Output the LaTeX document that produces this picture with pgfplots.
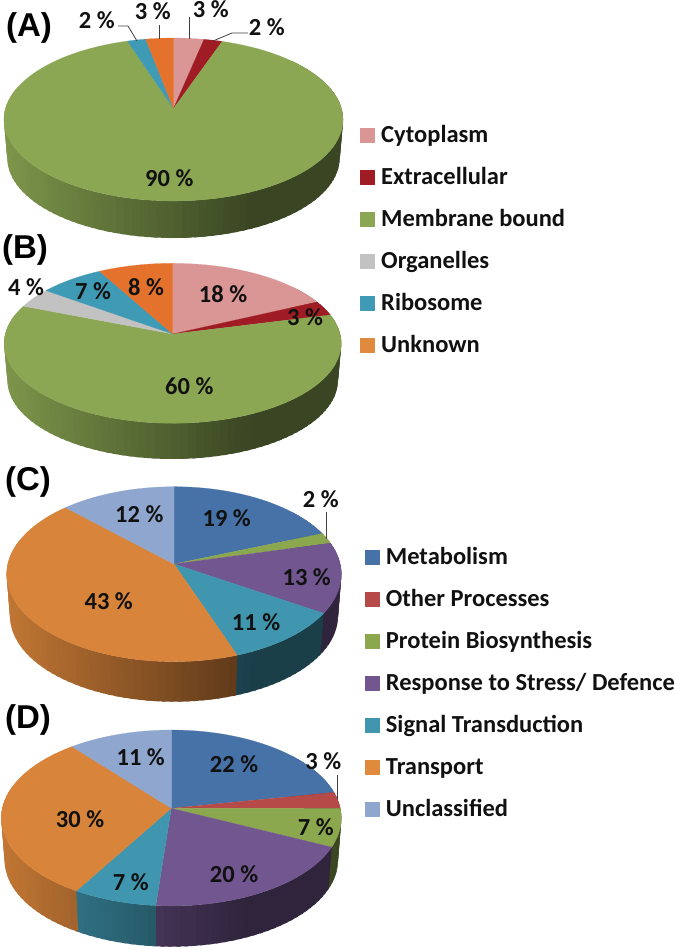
\documentclass[border=0pt]{standalone}
\usepackage{pgfplots}
\pgfplotsset{compat=1.18}
\usepackage{fontspec}
\setmainfont{Carlito}
\newfontfamily\arialf{Liberation Sans}
% chart colours
\definecolor{cyto}{HTML}{D99694}
\definecolor{extra}{HTML}{A01C24}
\definecolor{memb}{HTML}{8BA753}
\definecolor{orga}{HTML}{C2C2C2}
\definecolor{ribo}{HTML}{3F9AB5}
\definecolor{unkn}{HTML}{E5722C}
\definecolor{unknleg}{HTML}{E08A3E}
\definecolor{meta}{HTML}{4672A8}
\definecolor{other}{HTML}{B54A48}
\definecolor{prot}{HTML}{8CA84E}
\definecolor{resp}{HTML}{71568F}
\definecolor{sign}{HTML}{3F96AE}
\definecolor{tran}{HTML}{D8843A}
\definecolor{uncl}{HTML}{8FA6CF}
\definecolor{txt}{HTML}{111111}
% point on a disk rim: #1 angle, #2 scale, #3 y of disk centre
\newcommand\getpt[3]{%
  \pgfmathsetmacro\pu{sin(#1)}%
  \pgfmathsetmacro\pv{cos(#1)}%
  \pgfmathsetmacro\pden{1+\pk*\pv}%
  \pgfmathsetmacro\px{\pcx+\pR*#2*\pu/\pden}%
  \pgfmathsetmacro\py{#3-\pQ*#2*\pv/\pden}%
}
% #1 cx, #2 y apex, #3 y centre of the lower disk, #4 R, #5 Q, #6 k, #7 list value/colour
\newcommand\pie[7]{%
  \def\pcx{#1}\def\pcy{#2}\def\pyb{#3}\def\pR{#4}\def\pQ{#5}\def\pk{#6}%
  % side walls: each strip runs a little under the next one
  \xdef\cum{0}%
  \foreach \val/\col in {#7}{%
    \pgfmathsetmacro\ts{max(3.6*\cum,50)}%
    \pgfmathsetmacro\te{min(3.6*(\cum+\val),285)}%
    \pgfmathparse{\te>\ts+0.01?1:0}%
    \ifnum\pgfmathresult=1
      \pgfmathtruncatemacro\nn{ceil((\te-\ts)/2.5)}%
      \pgfmathsetmacro\dstep{(\te-\ts)/\nn}%
      \foreach \i in {1,...,\nn}{%
        \pgfmathsetmacro\tA{\ts+\dstep*(\i-1)}%
        \pgfmathsetmacro\tC{\ts+\dstep*\i+1.2}%
        \getpt{\tA}{1}{\pcy}\let\xa\px\let\ya\py
        \getpt{\tC}{1}{\pcy}\let\xb\px\let\yb\py
        \getpt{\tC}{0.98}{\pyb}\let\xc\px\let\yc\py
        \getpt{\tA}{0.98}{\pyb}\let\xd\px\let\yd\py
        \pgfmathsetmacro\tfrac{(\xa-\pcx+\pR)/(2*\pR)}%
        \pgfmathtruncatemacro\shd{max(42,90-64*\tfrac)}%
        \edef\doit{\noexpand\addplot[fill=\col!\shd!black,draw=none] coordinates {(\xa,\ya) (\xb,\yb) (\xc,\yc) (\xd,\yd)} --cycle;}%
        \doit
      }%
    \fi
    \pgfmathsetmacro\newcum{\cum+\val}%
    \xdef\cum{\newcum}%
  }%
  % top face
  \xdef\cum{0}%
  \foreach \val/\col in {#7}{%
    \pgfmathsetmacro\ts{3.6*\cum}%
    \pgfmathsetmacro\te{3.6*(\cum+\val)}%
    \pgfmathtruncatemacro\nn{ceil((\te-\ts)/3)}%
    \pgfmathsetmacro\dstep{(\te-\ts)/\nn}%
    \xdef\coords{(\pcx,\pcy)}%
    \foreach \i in {0,...,\nn}{%
      \pgfmathsetmacro\tA{\ts+\dstep*\i}%
      \getpt{\tA}{1}{\pcy}%
      \xdef\coords{\coords (\px,\py)}%
    }%
    \edef\doit{\noexpand\addplot[fill=\col,draw=\col,line width=0.2pt] coordinates {\coords} --cycle;}%
    \doit
    \pgfmathsetmacro\newcum{\cum+\val}%
    \xdef\cum{\newcum}%
  }%
}
\newcommand\lab[3]{\node[font=\fontsize{24.5}{24.5}\selectfont\bfseries,text=txt,inner sep=0pt,anchor=center] at (axis cs:#1,#2) {#3};}
\newcommand\ttl[3]{\node[font=\fontsize{33}{33}\selectfont\arialf\bfseries,text=black,inner sep=0pt,anchor=center] at (axis cs:#1,#2) {#3};}
\newcommand\leg[5]{%
  \addplot[only marks,mark=square*,mark size=7pt,mark options={fill=#4,draw=#4}] coordinates {(#1,#2)};
  \node[font=\fontsize{24.5}{24.5}\selectfont\bfseries,text=txt,inner sep=0pt,anchor=base west] at (axis cs:#3,#2+7.5) {#5};
}
\begin{document}
\begin{tikzpicture}
\useasboundingbox (0,0) rectangle (676pt,949pt);
\begin{axis}[
  at={(0,0)},anchor=south west,
  width=676pt,height=949pt,scale only axis,
  xmin=0,xmax=676,ymin=0,ymax=949,y dir=reverse,
  hide axis,clip=false,line join=round]
% (A)
\pie{173.5}{108.5}{147.4}{168}{80}{0.135}{3.3/cyto,2/extra,89.7/memb,2/ribo,3/unkn}
% (B)
\pie{172.7}{334}{371.5}{167.4}{78.9}{0.1163}{18/cyto,3/extra,60/memb,4/orga,7/ribo,8/unkn}
% (C)
\pie{174}{564}{606}{166.2}{86.3}{0.1166}{19/meta,2/prot,13/resp,10.5/sign,43/tran,12.5/uncl}
% (D)
\pie{171.3}{808.3}{851}{169}{86.9}{0.11}{22/meta,3/other,7/prot,19.3/resp,7.2/sign,30.5/tran,11/uncl}
% leader lines
\addplot[black!75,line width=0.8pt] coordinates {(118,26) (128,26) (137,41)};
\addplot[black!75,line width=0.8pt] coordinates {(159.3,25) (159.3,39)};
\addplot[black!75,line width=0.8pt] coordinates {(189.3,17) (189.3,39)};
\addplot[black!75,line width=0.8pt] coordinates {(248,33) (232,33) (213,41)};
\addplot[black!75,line width=0.8pt] coordinates {(326.7,511.7) (326.7,539)};
\addplot[black!75,line width=0.8pt] coordinates {(337,775) (337,799.3)};
% labels
\lab{96.7}{20}{2 \%}\lab{152.7}{11}{3 \%}\lab{210.7}{9.5}{3 \%}\lab{266.7}{26.7}{2 \%}\lab{169.3}{178}{90 \%}
\lab{26}{287}{4 \%}\lab{93}{291}{7 \%}\lab{146}{286.7}{8 \%}\lab{223}{294}{18 \%}\lab{305}{317.3}{3 \%}\lab{189.3}{385.7}{60 \%}
\lab{320.7}{499.3}{2 \%}\lab{226.7}{518.3}{19 \%}\lab{139.3}{514}{12 \%}\lab{306.7}{577.3}{13 \%}\lab{256}{621.7}{11 \%}\lab{108.7}{601}{43 \%}
\lab{323.3}{761}{3 \%}\lab{234}{764}{22 \%}\lab{140.7}{757.3}{11 \%}\lab{315.7}{827.3}{7 \%}\lab{80}{819}{30 \%}\lab{234}{874}{20 \%}\lab{130.7}{881.7}{7 \%}
\ttl{29}{28}{(A)}\ttl{25}{250}{(B)}\ttl{28}{481.7}{(C)}\ttl{28}{720}{(D)}
% legends
\leg{367}{135}{381}{cyto}{Cytoplasm}
\leg{367}{177}{381}{extra}{Extracellular}
\leg{367}{219}{381}{memb}{Membrane bound}
\leg{367}{261}{381}{orga}{Organelles}
\leg{367}{303}{381}{ribo}{Ribosome}
\leg{367}{345}{381}{unknleg}{Unknown}
\leg{372}{556.7}{385.7}{meta}{Metabolism}
\leg{372}{598.7}{385.7}{other}{Other Processes}
\leg{372}{641}{385.7}{prot}{Protein Biosynthesis}
\leg{372}{683}{385.7}{resp}{Response to Stress/ Defence}
\leg{372}{725}{385.7}{sign}{Signal Transduction}
\leg{372}{767}{385.7}{unknleg}{Transport}
\leg{372}{809}{385.7}{uncl}{Unclassified}
\end{axis}
\end{tikzpicture}
\end{document}
